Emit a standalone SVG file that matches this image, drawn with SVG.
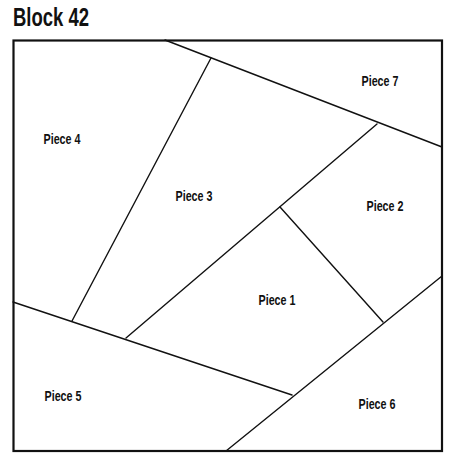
<svg xmlns="http://www.w3.org/2000/svg" width="450" height="456" viewBox="0 0 450 456">
<style>
.lbl{font-family:"Liberation Sans",Arial,sans-serif;font-weight:bold;font-size:14.5px;fill:#111;text-anchor:middle}
.ttl{font-family:"Liberation Sans",Arial,sans-serif;font-weight:bold;font-size:25px;fill:#111}
.seam{stroke:#111;stroke-width:1.4;fill:none;stroke-linecap:round}
</style>
<rect width="450" height="456" fill="#fff"/>
<text class="ttl" x="13" y="26" textLength="76" lengthAdjust="spacingAndGlyphs">Block 42</text>
<g id="connectors">
<line class="seam" x1="165" y1="40" x2="442" y2="147"/>
<line class="seam" x1="211" y1="58" x2="72" y2="321"/>
<line class="seam" x1="377" y1="124" x2="126" y2="338"/>
<line class="seam" x1="13" y1="302" x2="292" y2="395"/>
<line class="seam" x1="226" y1="451" x2="442" y2="276"/>
<line class="seam" x1="280" y1="207" x2="383" y2="322"/>
</g>
<rect id="block" x="13.5" y="40.5" width="428.5" height="410.5" fill="none" stroke="#111" stroke-width="2.2"/>
<g id="piece1"><text class="lbl" x="277" y="305" textLength="37" lengthAdjust="spacingAndGlyphs">Piece 1</text></g>
<g id="piece2"><text class="lbl" x="385" y="210.5" textLength="37" lengthAdjust="spacingAndGlyphs">Piece 2</text></g>
<g id="piece3"><text class="lbl" x="194" y="200.5" textLength="37" lengthAdjust="spacingAndGlyphs">Piece 3</text></g>
<g id="piece4"><text class="lbl" x="62" y="143.5" textLength="37" lengthAdjust="spacingAndGlyphs">Piece 4</text></g>
<g id="piece5"><text class="lbl" x="63" y="400.5" textLength="37" lengthAdjust="spacingAndGlyphs">Piece 5</text></g>
<g id="piece6"><text class="lbl" x="377" y="408.5" textLength="37" lengthAdjust="spacingAndGlyphs">Piece 6</text></g>
<g id="piece7"><text class="lbl" x="380" y="85.5" textLength="37" lengthAdjust="spacingAndGlyphs">Piece 7</text></g>
</svg>
